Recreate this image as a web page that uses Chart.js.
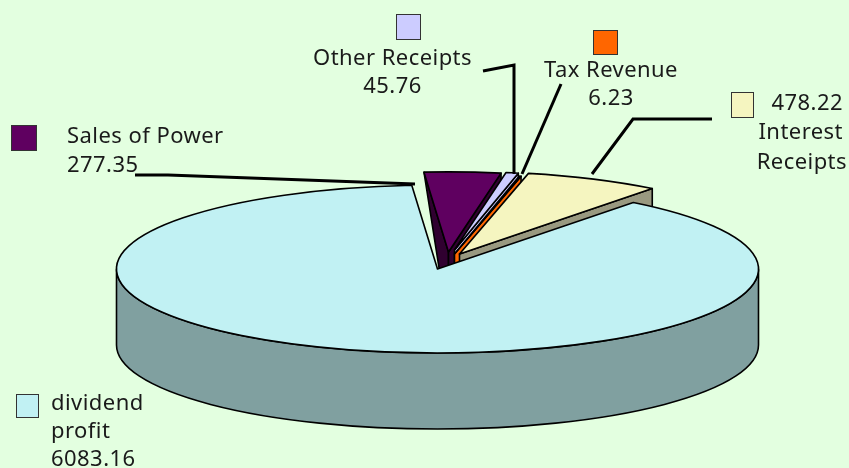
<!DOCTYPE html>
<html>
<head>
<meta charset="utf-8">
<title>Receipts</title>
<script src="https://cdn.jsdelivr.net/npm/chart.js@4"></script>
<style>
html, body { margin: 0; padding: 0; background: #e3ffe0; overflow: hidden; }
canvas { display: block; }
</style>
</head>
<body>
<canvas id="grafico" width="849" height="468"></canvas>
<script>
// values (main slice last, so it paints over the others)
var categories = ['Sales of Power', 'Other Receipts', 'Tax Revenue', 'Interest Receipts', 'dividend profit'];
var values = [277.35, 45.76, 6.23, 478.22, 6083.16];
var valueLabels = ['277.35', '45.76', '6.23', '478.22', '6083.16'];

var topColors = ['#5f0060', '#ccccff', '#ff6600', '#f5f5c0', '#c1f1f3'];
var wallColors = ['#300030', '#ccccff', '#ff6600', '#999980', '#80a0a0'];

// look of the tilted pie
var pieX = 437.5, pieY = 269, pieRadius = 321, tilt = 0.2617, depth = 76;
var firstAngle = -4.6;
// explosion of each slice, measured on the round pie before the tilt
var shiftX = [11, 17, 17, 22, 0];
var shiftY = [-65, -73, -57, -57, 0];
var sliceRadius = [306, 300, 305, 316, 321];

var fontName = '"Noto Sans"';
var lineColor = '#000';

// swatch box, then the text lines as [text, baseline, x]
var legendItems = [
    { i: 0, box: [11, 125, 25, 25], align: 'left', lines: [[categories[0], 143, 67], [valueLabels[0], 172, 67]] },
    { i: 1, box: [396, 14, 24, 25], align: 'center', lines: [[categories[1], 65, 392.5], [valueLabels[1], 93, 392.5]] },
    { i: 2, box: [593, 30, 24, 24], align: 'center', lines: [[categories[2], 77, 611], [valueLabels[2], 105, 611]] },
    { i: 3, box: [731, 92, 22, 25], align: 'right', lines: [[valueLabels[3], 110, 843], [categories[3].split(' ')[0], 139, 843], [categories[3].split(' ')[1], 169, 847]] },
    { i: 4, box: [16, 394, 22, 23], align: 'left', lines: [[categories[4].split(' ')[0], 410, 51], [categories[4].split(' ')[1], 438, 51], [valueLabels[4], 466, 51]] }
];
var leaders = [
    [[135, 175], [168, 175], [415, 184]],
    [[483, 71], [514, 65], [514, 174]],
    [[561, 84], [522, 174]],
    [[712, 119], [633, 119], [592, 174]]
];

function screenCenter(arc, origem) {
    return { x: pieX + (arc.x - origem.x), y: pieY + (arc.y - origem.y) * tilt };
}

function rimPoint(c, r, ang) {
    return { x: c.x + Math.cos(ang) * r, y: c.y + Math.sin(ang) * r * tilt };
}

function fillStroke(ctx, color) {
    ctx.fillStyle = color;
    ctx.fill();
    ctx.lineWidth = 1.6;
    ctx.strokeStyle = lineColor;
    ctx.lineJoin = 'round';
    ctx.stroke();
}

var pie3d = {
    id: 'pie3d',
    origem: null,
    afterDatasetUpdate: function(chart) {
        var arcs = chart.getDatasetMeta(0).data;
        this.origem = { x: arcs[0].x, y: arcs[0].y };
        for (var i = 0; i < arcs.length; i++) {
            arcs[i].x = this.origem.x + shiftX[i];
            arcs[i].y = this.origem.y + shiftY[i];
            arcs[i].outerRadius = sliceRadius[i];
        }
    },
    // the side walls go under all the top faces
    beforeDatasetsDraw: function(chart) {
        var ctx = chart.ctx;
        var arcs = chart.getDatasetMeta(0).data;
        for (var i = 0; i < arcs.length; i++) {
            var c = screenCenter(arcs[i], this.origem);
            var r = arcs[i].outerRadius;
            var a0 = arcs[i].startAngle, a1 = arcs[i].endAngle;
            var p;

            // start face runs out to nothing at the back corner
            if (Math.cos(a0) < 0 && i < 4) {
                p = rimPoint(c, r, a0);
                ctx.beginPath();
                ctx.moveTo(p.x, p.y);
                ctx.lineTo(c.x, c.y);
                ctx.lineTo(c.x, c.y + depth);
                ctx.closePath();
                fillStroke(ctx, wallColors[i]);
            }
            // end face
            if (Math.cos(a1) > 0 && i < 4) {
                p = rimPoint(c, r, a1);
                ctx.beginPath();
                ctx.moveTo(c.x, c.y);
                ctx.lineTo(p.x, p.y);
                ctx.lineTo(p.x, p.y + depth);
                ctx.lineTo(c.x, c.y + depth);
                ctx.closePath();
                fillStroke(ctx, wallColors[i]);
            }
            // outer rim, front half only
            var from = Math.max(a0, 0), to = Math.min(a1, Math.PI);
            if (to > from) {
                ctx.beginPath();
                ctx.ellipse(c.x, c.y, r, r * tilt, 0, from, to);
                ctx.ellipse(c.x, c.y + depth, r, r * tilt, 0, to, from, true);
                ctx.closePath();
                fillStroke(ctx, wallColors[i]);
            }
        }
    },
    beforeDatasetDraw: function(chart) {
        var ctx = chart.ctx;
        ctx.save();
        ctx.translate(pieX, pieY);
        ctx.scale(1, tilt);
        ctx.translate(-this.origem.x, -this.origem.y);
    },
    afterDatasetDraw: function(chart) {
        chart.ctx.restore();
    },
    // outlines here so the tilt does not thin them, then leaders and labels
    afterDatasetsDraw: function(chart) {
        var ctx = chart.ctx;
        var arcs = chart.getDatasetMeta(0).data;
        var i, k;
        ctx.lineWidth = 1.6;
        ctx.strokeStyle = lineColor;
        ctx.lineJoin = 'round';
        for (i = 0; i < arcs.length; i++) {
            var c = screenCenter(arcs[i], this.origem);
            var r = arcs[i].outerRadius;
            ctx.beginPath();
            ctx.moveTo(c.x, c.y);
            ctx.ellipse(c.x, c.y, r, r * tilt, 0, arcs[i].startAngle, arcs[i].endAngle);
            ctx.closePath();
            ctx.stroke();
        }

        ctx.lineWidth = 3;
        ctx.lineJoin = 'miter';
        for (i = 0; i < leaders.length; i++) {
            ctx.beginPath();
            ctx.moveTo(leaders[i][0][0], leaders[i][0][1]);
            for (k = 1; k < leaders[i].length; k++) {
                ctx.lineTo(leaders[i][k][0], leaders[i][k][1]);
            }
            ctx.stroke();
        }

        ctx.font = '22px ' + fontName;
        ctx.letterSpacing = '0.45px';
        ctx.textBaseline = 'alphabetic';
        for (i = 0; i < legendItems.length; i++) {
            var item = legendItems[i];
            ctx.fillStyle = topColors[item.i];
            ctx.fillRect(item.box[0], item.box[1], item.box[2], item.box[3]);
            ctx.lineWidth = 1;
            ctx.strokeStyle = '#333';
            ctx.strokeRect(item.box[0] + 0.5, item.box[1] + 0.5, item.box[2], item.box[3]);
            ctx.fillStyle = '#1a1a1a';
            ctx.textAlign = item.align;
            for (k = 0; k < item.lines.length; k++) {
                ctx.fillText(item.lines[k][0], item.lines[k][2], item.lines[k][1]);
            }
        }
    }
};

var canvas = document.getElementById('grafico').getContext('2d');
var grafico = new Chart(canvas, {
    type: 'pie',
    data: {
        labels: categories,
        datasets: [{
            data: values,
            backgroundColor: topColors,
            borderWidth: 0,
            clip: false
        }]
    },
    options: {
        responsive: false,
        animation: false,
        events: [],
        radius: pieRadius,
        rotation: firstAngle,
        layout: { padding: 0 },
        plugins: { legend: { display: false }, tooltip: { enabled: false }, title: { display: false } }
    },
    plugins: [pie3d]
});
</script>
</body>
</html>
